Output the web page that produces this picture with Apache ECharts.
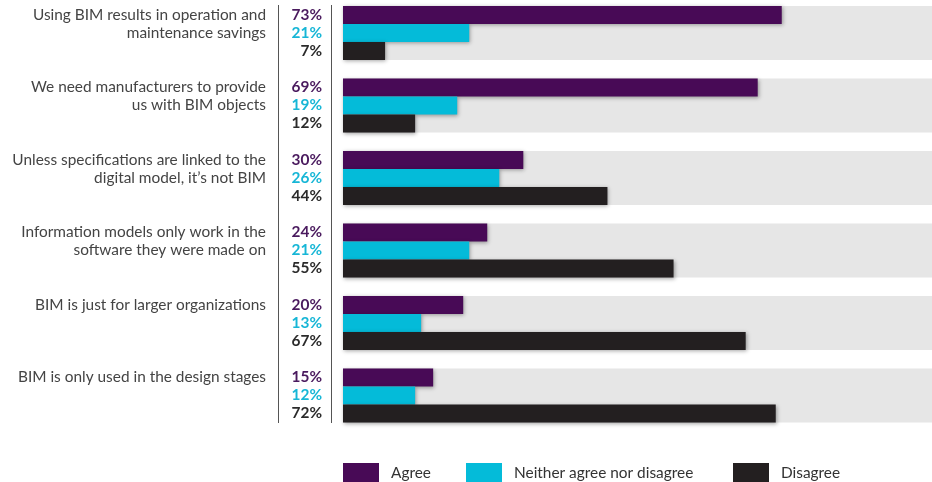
<!DOCTYPE html>
<html>
<head>
<meta charset="utf-8">
<script src="https://cdn.jsdelivr.net/npm/echarts@6/dist/echarts.min.js"></script>
<style>
html,body{margin:0;padding:0;background:#fff;}
#c{width:932px;height:482px;}
</style>
</head>
<body>
<div id="c"></div>
<script>
const categories = [
  "Using BIM results in operation and\nmaintenance savings",
  "We need manufacturers to provide\nus with BIM objects",
  "Unless specifications are linked to the\ndigital model, it\u2019s not BIM",
  "Information models only work in the\nsoftware they were made on",
  "BIM is just for larger organizations",
  "BIM is only used in the design stages"
];
const seriesNames = ["Agree", "Neither agree nor disagree", "Disagree"];
const agree = [73, 69, 30, 24, 20, 15];
const neither = [21, 19, 26, 21, 13, 12];
const disagree = [7, 12, 44, 55, 67, 72];

const AXIS_MAX = 98;
const barColors = ["#480a56", "#04bbd9", "#231f20"];
const labelColors = ["#4a1a5e", "#17b6d6", "#2b2b2b"];
const values = [agree, neither, disagree];
const FONT = "Lato";
const FS = 15.4;

const chart = echarts.init(document.getElementById('c'), null, {renderer: 'canvas'});

const series = [{
  name: 'bg',
  type: 'bar',
  yAxisIndex: 1,
  data: categories.map(() => AXIS_MAX),
  barWidth: 54,
  itemStyle: {color: '#e6e6e6'},
  silent: true,
  z: 1,
  emphasis: {disabled: true},
  animation: false
}].concat(seriesNames.map((name, i) => ({
  name: name,
  type: 'bar',
  yAxisIndex: 0,
  data: values[i],
  barWidth: 18,
  barGap: '0%',
  z: 3,
  itemStyle: {
    color: barColors[i],
    shadowBlur: 4,
    shadowColor: 'rgba(0,0,0,0.35)',
    shadowOffsetX: 1,
    shadowOffsetY: 1
  },
  label: {
    show: true,
    position: 'left',
    distance: 21,
    formatter: '{c}%',
    color: labelColors[i],
    fontFamily: FONT,
    fontWeight: 'bold',
    fontSize: FS
  },
  emphasis: {disabled: true},
  animation: false
})));

const legends = seriesNames.map((name, i) => ({
  data: [name],
  left: [343, 466, 733][i],
  top: 463,
  padding: 0,
  itemWidth: 36,
  itemHeight: 20,
  icon: 'rect',
  selectedMode: false,
  textStyle: {fontFamily: FONT, fontSize: FS, color: '#333', padding: [0, 0, 0, 7]}
}));

const baseY = {
  type: 'category',
  data: categories,
  inverse: true,
  boundaryGap: false,
  axisLine: {show: false},
  axisTick: {show: false}
};

chart.setOption({
  animation: false,
  legend: legends,
  grid: {left: 343, right: 0, top: 33, height: 362.5, containLabel: false},
  xAxis: {
    type: 'value', min: 0, max: AXIS_MAX, show: false
  },
  yAxis: [
    Object.assign({}, baseY, {
      axisLabel: {
        margin: 77,
        fontFamily: FONT,
        fontSize: FS,
        color: '#444',
        lineHeight: 18,
        verticalAlign: 'middle',
        formatter: function (v) {
          const lines = v.split('\n');
          while (lines.length < 3) lines.push(' ');
          return lines.join('\n');
        }
      }
    }),
    Object.assign({}, baseY, {position: 'left', show: false, axisLabel: {show: false}})
  ],
  graphic: [
    {type: 'line', shape: {x1: 278.5, y1: 5, x2: 278.5, y2: 423}, style: {stroke: '#555', lineWidth: 1}, silent: true},
    {type: 'line', shape: {x1: 331.5, y1: 5, x2: 331.5, y2: 423}, style: {stroke: '#555', lineWidth: 1}, silent: true}
  ],
  series: series
});
</script>
</body>
</html>
